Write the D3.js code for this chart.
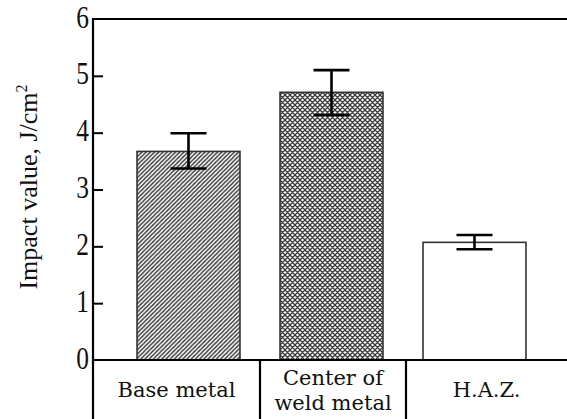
<!DOCTYPE html>
<html>
<head>
<meta charset="utf-8">
<script src="https://cdn.jsdelivr.net/npm/d3@7"></script>
<style>
  body { margin: 0; background: #fff; }
  svg { display: block; }
  .cat-label { font-family: "DejaVu Serif", serif; font-size: 21px; fill: #111; }
  .tick-label { font-family: "Liberation Serif", serif; font-size: 31px; fill: #111; }
  .y-title { font-family: "Liberation Serif", serif; font-size: 26px; fill: #111; }
</style>
</head>
<body>
<div id="chart"></div>
<script>
// data
var categories = ["Base metal", "Center of\nweld metal", "H.A.Z."];
var impactValues = [3.67, 4.71, 2.07];
var errLow = [3.37, 4.31, 1.95];
var errHigh = [3.99, 5.10, 2.20];
var fills = ["hatch", "cross", "none"];
var yTicks = [0, 1, 2, 3, 4, 5, 6];

var width = 567, height = 419;
var margin = {top: 19, left: 93, bottom: 59};

var svg = d3.select("#chart").append("svg")
    .attr("width", width)
    .attr("height", height);

// patterns for the bars
var defs = svg.append("defs");
var hatch = defs.append("pattern")
    .attr("id", "hatch")
    .attr("patternUnits", "userSpaceOnUse")
    .attr("width", 4.2).attr("height", 4.2);
hatch.append("rect").attr("width", 4.2).attr("height", 4.2).attr("fill", "#fff");
hatch.append("path")
    .attr("d", "M-1,1 l2,-2 M0,4.2 l4.2,-4.2 M3.2,5.2 l2,-2")
    .attr("stroke", "#3a3a3a").attr("stroke-width", 1.4);

var cross = defs.append("pattern")
    .attr("id", "cross")
    .attr("patternUnits", "userSpaceOnUse")
    .attr("width", 5).attr("height", 5);
cross.append("rect").attr("width", 5).attr("height", 5).attr("fill", "#fff");
cross.append("path")
    .attr("d", "M0,5 L5,0 M-1,1 l2,-2 M4,6 l2,-2 M0,0 L5,5 M-1,4 l2,2 M4,-1 l2,2")
    .attr("stroke", "#3a3a3a").attr("stroke-width", 1.3);

// scales
var x = d3.scaleBand()
    .domain(categories)
    .range([117, 546])
    .paddingInner(0.28)
    .paddingOuter(0.14);

var y = d3.scaleLinear()
    .domain([0, 6])
    .range([height - margin.bottom, margin.top]);

var data = categories.map(function(c, i){
  return {cat: c, value: impactValues[i], lo: errLow[i], hi: errHigh[i], fill: fills[i]};
});

// bars
svg.selectAll("rect.bar")
    .data(data)
    .enter()
    .append("rect")
    .attr("class", "bar")
    .attr("x", function(d){ return x(d.cat); })
    .attr("y", function(d){ return y(d.value); })
    .attr("width", x.bandwidth())
    .attr("height", function(d){ return y(0) - y(d.value); })
    .attr("fill", function(d){ return d.fill == "none" ? "#fff" : "url(#" + d.fill + ")"; })
    .attr("stroke", "#333")
    .attr("stroke-width", 1.6);

// error bars
var capHalf = 18;
var err = svg.selectAll("g.err")
    .data(data)
    .enter()
    .append("g")
    .attr("class", "err")
    .attr("stroke", "#000")
    .attr("stroke-width", 2.6)
    .attr("fill", "none");
err.append("line")
    .attr("x1", function(d){ return x(d.cat) + x.bandwidth()/2; })
    .attr("x2", function(d){ return x(d.cat) + x.bandwidth()/2; })
    .attr("y1", function(d){ return y(d.lo); })
    .attr("y2", function(d){ return y(d.hi); });
err.selectAll("line.cap")
    .data(function(d){ return [{c: d.cat, v: d.lo}, {c: d.cat, v: d.hi}]; })
    .enter()
    .append("line")
    .attr("class", "cap")
    .attr("x1", function(d){ return x(d.c) + x.bandwidth()/2 - capHalf; })
    .attr("x2", function(d){ return x(d.c) + x.bandwidth()/2 + capHalf; })
    .attr("y1", function(d){ return y(d.v); })
    .attr("y2", function(d){ return y(d.v); });

// frame: y axis (running down through the label row), top line, x axis
var frame = svg.append("g").attr("stroke", "#000").attr("stroke-width", 2.2);
frame.append("line")
    .attr("x1", margin.left).attr("x2", margin.left)
    .attr("y1", y(6) - 1).attr("y2", height);
frame.append("line")
    .attr("x1", margin.left).attr("x2", width)
    .attr("y1", y(6)).attr("y2", y(6));
frame.append("line")
    .attr("x1", margin.left).attr("x2", width)
    .attr("y1", y(0)).attr("y2", y(0));

// dividers between the category cells
var step = x.step();
var dividers = categories.slice(0, -1).map(function(c, i){
  return x(c) + x.bandwidth() + (step - x.bandwidth())/2 + (i == 1 ? 3 : 0);
});
frame.selectAll("line.div")
    .data(dividers)
    .enter()
    .append("line")
    .attr("class", "div")
    .attr("x1", function(d){ return d; })
    .attr("x2", function(d){ return d; })
    .attr("y1", y(0)).attr("y2", height);

// y ticks, pointing inward
var yAxis = svg.append("g")
    .attr("transform", "translate(" + margin.left + ",0)")
    .call(d3.axisRight(y).tickValues(yTicks.slice(1, -1)).tickSize(10).tickFormat(""));
yAxis.select(".domain").remove();
yAxis.selectAll("line").attr("stroke", "#000").attr("stroke-width", 2);

svg.selectAll("text.tick-label")
    .data(yTicks)
    .enter()
    .append("text")
    .attr("class", "tick-label")
    .attr("text-anchor", "end")
    .attr("transform", function(d){ return "translate(89," + (y(d) + 8.5) + ") scale(0.82,1)"; })
    .text(function(d){ return d; });

// category labels
var cellEdges = [margin.left].concat(dividers).concat([width]);
var cats = svg.selectAll("text.cat-label")
    .data(data)
    .enter()
    .append("text")
    .attr("class", "cat-label")
    .attr("text-anchor", "middle")
    .attr("transform", function(d, i){
      var cx = (cellEdges[i] + cellEdges[i+1]) / 2;
      return "translate(" + cx + ",0)";
    });
cats.each(function(d){
  var lines = d.cat.split("\n");
  var t = d3.select(this);
  var y0 = lines.length == 1 ? 397 : 385;
  lines.forEach(function(l, j){
    t.append("tspan").attr("x", 0).attr("y", y0 + j*25).text(l);
  });
});

// y axis title
var yt = svg.append("text")
    .attr("class", "y-title")
    .attr("text-anchor", "middle")
    .attr("transform", "translate(37,187) rotate(-90)");
yt.append("tspan").text("Impact value, J/cm");
yt.append("tspan").attr("dy", -10).attr("font-size", 16).text("2");
</script>
</body>
</html>
